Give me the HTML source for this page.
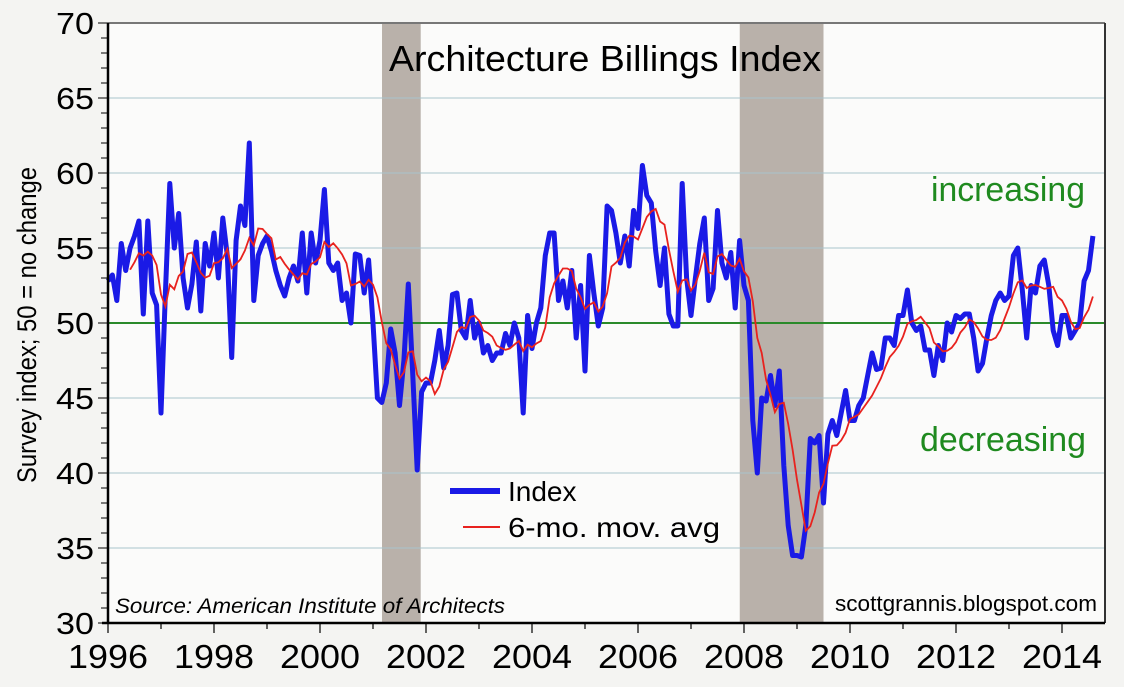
<!DOCTYPE html>
<html><head><meta charset="utf-8"><style>
body{margin:0;background:#f4f4f2;}
svg text{font-family:"Liberation Sans",sans-serif;}
</style></head><body>
<svg id="c" width="1124" height="682" xmlns="http://www.w3.org/2000/svg"></svg>
<script>
const years=[1996,1998,2000,2002,2004,2006,2008,2010,2012,2014];
const yTicks=[30,35,40,45,50,55,60,65,70];
const recessions=[[2001.17,2001.9],[2007.92,2009.5]];
const startYear=1996;
const indexValues=[
52.8,53.2,51.5,55.3,53.5,55,55.8,56.8,50.6,56.8,52,51.2,
44,52,59.3,55,57.3,53,51,52.6,55.4,50.8,55.3,53.8,
56,53,57,54.5,47.7,55.5,57.8,56.5,62,51.5,54.5,55.3,
55.8,54.8,53.5,52.5,51.8,53,53.8,52.8,56,52,56,54,
55.5,58.9,54,53.5,54,51.5,52,50,54.6,54.5,52,54.2,
50,45,44.7,46,49.6,48,44.5,47.5,52.6,46.5,40.2,45.4,
46,46,47.5,49.5,47,48.5,51.9,52,49.5,49,51.5,49,
50,48,48.5,47.5,48,48,49.3,48.5,50,49,44,50.5,
48.3,50,51,54.5,56,56,51.5,52.8,51,53.5,49,52.5,
46.8,54.5,52,49.8,51,57.8,57.5,56,54,55.8,53.8,57.5,
56.3,60.5,58.5,58,54.8,52.5,55,50.6,49.8,49.8,59.3,53,
50.5,53,55.3,57,51.5,52.3,57.5,54,53,54.7,51,55.5,
52.5,51.5,43.5,40,45,44.8,46.5,44.5,46.8,40.5,36.5,34.5,
34.5,34.4,36.5,42.3,42,42.5,38,42.6,43.5,42.5,44,45.5,
43.5,43.5,44.5,45,46.5,48,46.9,47,49,49,48.5,50.5,
50.5,52.2,50,49.5,49.8,48.2,48.2,46.5,48.5,47.5,50,49.4,
50.5,50.3,50.6,50.6,49,46.8,47.3,49,50.5,51.5,52,51.5,
51.8,54.5,55,52.2,49,52.5,52,53.8,54.2,52.5,49.5,48.5,
50.5,50.5,49,49.5,50,52.8,53.5,55.8];

const L=108,R=1105,T=23,B=623;
const xs=t=>L+(t-1996)*53;
const ys=v=>B-(v-30)*15;
const svg=document.getElementById('c');
const NS='http://www.w3.org/2000/svg';
function mk(tag,attrs,parent){const e=document.createElementNS(NS,tag);for(const k in attrs)e.setAttribute(k,attrs[k]);(parent||svg).appendChild(e);return e;}

mk('rect',{x:L,y:T,width:R-L,height:B-T,fill:'#fbfbfa'});
recessions.forEach(r=>{const e=mk('rect',{x:xs(r[0]),y:T,width:xs(r[1])-xs(r[0]),height:B-T,fill:'#b9b1aa'});

});
yTicks.forEach(v=>{if(v==30||v==70||v==50)return;const e=mk('line',{x1:L,x2:R,y1:ys(v),y2:ys(v),stroke:'#a9c4cc','stroke-width':1});

});
mk('line',{x1:L,x2:R,y1:ys(70),y2:ys(70),stroke:'#777','stroke-width':2});
const zl=mk('line',{x1:L,x2:R,y1:ys(50),y2:ys(50),stroke:'#2a8a2a','stroke-width':2});


mk('line',{x1:R,x2:R,y1:T,y2:B,stroke:'#333','stroke-width':2});

const tOf=i=>startYear+i/12;
let d='';indexValues.forEach((v,i)=>{d+=(i?'L':'M')+xs(tOf(i)).toFixed(1)+','+ys(v).toFixed(1);});
const ma=[];for(let i=5;i<indexValues.length;i++){let s=0;for(let j=i-5;j<=i;j++)s+=indexValues[j];ma.push([i,s/6]);}
let d2='';ma.forEach((p,k)=>{d2+=(k?'L':'M')+xs(tOf(p[0])).toFixed(1)+','+ys(p[1]).toFixed(1);});
const p1=mk('path',{d:d,fill:'none',stroke:'#1a1ae6','stroke-width':5,'stroke-linejoin':'round'});


const p2=mk('path',{d:d2,fill:'none',stroke:'#e8221e','stroke-width':1.8});



mk('line',{x1:L,x2:L,y1:T,y2:B,stroke:'#000','stroke-width':2.5});
mk('line',{x1:L-6,x2:R,y1:B,y2:B,stroke:'#000','stroke-width':2.5});
for(let v=30;v<=70;v++){mk('line',{x1:v%5==0?L-10:L-7,x2:L,y1:ys(v),y2:ys(v),stroke:'#000','stroke-width':1});}
for(let y=1996;y<=2014;y++){mk('line',{x1:xs(y),x2:xs(y),y1:B,y2:B+(y%2==0?10:6),stroke:'#000','stroke-width':1.2});}
yTicks.forEach(v=>{const t=mk('text',{x:L-14,y:ys(v)+11,'text-anchor':'end','font-size':31,textLength:38,lengthAdjust:'spacingAndGlyphs'});t.textContent=v;

});
years.forEach(y=>{const t=mk('text',{x:xs(y),y:B+45,'text-anchor':'middle','font-size':33,textLength:80,lengthAdjust:'spacingAndGlyphs'});t.textContent=y;

});

function txt(x,y,s,size,name,extra){const t=mk('text',Object.assign({x:x,y:y,'font-size':size},extra||{}));t.textContent=s;return t;}
txt(605,71,'Architecture Billings Index',36,'chart-title',{'text-anchor':'middle',textLength:432,lengthAdjust:'spacingAndGlyphs'});
txt(0,0,'Survey index; 50 = no change',27,'y-axis-title',{'text-anchor':'middle',transform:'translate(36,325) rotate(-90)',textLength:316,lengthAdjust:'spacingAndGlyphs'});
txt(1008,201,'increasing',34,'increasing-label',{'text-anchor':'middle',fill:'#1f8a1f',textLength:154,lengthAdjust:'spacingAndGlyphs'});
txt(1003,451,'decreasing',34,'decreasing-label',{'text-anchor':'middle',fill:'#1f8a1f',textLength:166,lengthAdjust:'spacingAndGlyphs'});
txt(115,613,'Source: American Institute of Architects',21,'source-note',{'font-style':'italic',textLength:390,lengthAdjust:'spacingAndGlyphs'});
txt(1097,611,'scottgrannis.blogspot.com',22,'attribution',{'text-anchor':'end',textLength:262,lengthAdjust:'spacingAndGlyphs'});
mk('line',{x1:450,x2:500,y1:491,y2:491,stroke:'#1a1ae6','stroke-width':6});
txt(508,501,'Index',28,'legend-index');
mk('line',{x1:463,x2:500,y1:527,y2:527,stroke:'#e8221e','stroke-width':2});
txt(508,537,'6-mo. mov. avg',28,'legend-moving-average',{textLength:212,lengthAdjust:'spacingAndGlyphs'});
</script>
</body></html>
